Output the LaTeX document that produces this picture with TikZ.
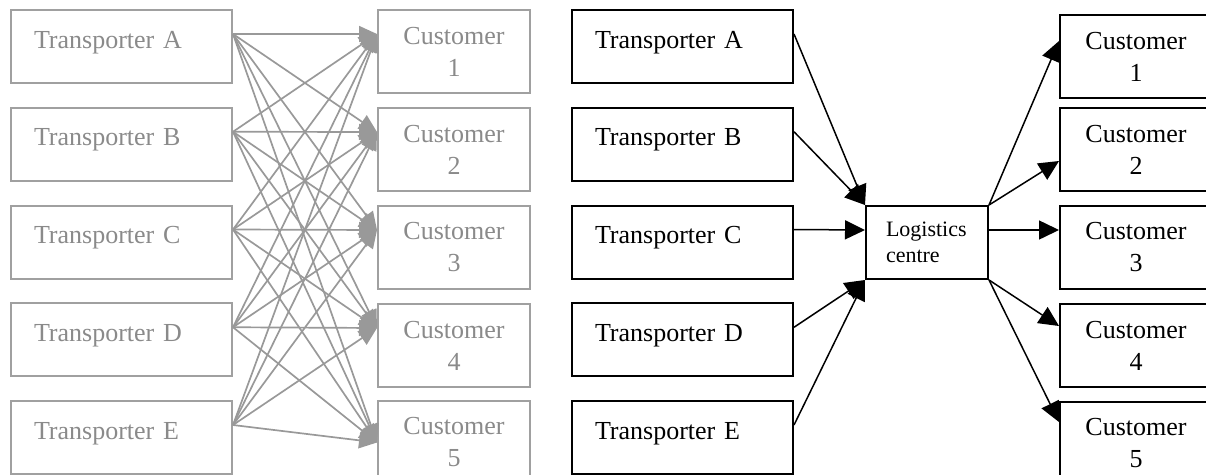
\documentclass[tikz,border=0pt]{standalone}
\usepackage{fontspec}
\setmainfont{Liberation Serif}
\usetikzlibrary{arrows.meta}

\definecolor{boxgray}{HTML}{A0A0A0}
\definecolor{linkgray}{HTML}{999999}
\definecolor{textgray}{HTML}{8A8A8A}

\tikzset{
  trans/.style={draw, line width=2pt, anchor=north west, minimum width=221pt, minimum height=73pt,
    inner xsep=23pt, inner ysep=0pt, text width=175pt, align=left,
    text height=20pt, text depth=17pt, font=\fontsize{26}{32}\selectfont},
  cust/.style={draw, line width=2pt, anchor=north west, minimum width=152pt, minimum height=83pt,
    inner sep=0pt, align=center, font=\fontsize{26}{32}\selectfont},
  hub/.style={draw, line width=2pt, anchor=north west, minimum width=122pt, minimum height=73pt,
    inner xsep=20pt, inner ysep=0pt, text width=82pt, align=left, font=\fontsize{22}{26}\selectfont},
  pale/.style={draw=boxgray, text=textgray},
  link/.style={-{Triangle[length=20pt,width=19pt]}, line width=1.5pt},
}

\begin{document}
\begin{tikzpicture}[x=1pt,y=-1pt]
\useasboundingbox (0,0) rectangle (1206,474);

% without logistics centre
\foreach \l [count=\i, evaluate={\top=9+97.75*(\i-1)}] in {A,B,C,D,E}
  \node[trans, pale] (tL\i) at (10,\top) {Transporter \l};
\foreach \i/\top in {1/9,2/107,3/205,4/303,5/400}
  \node[cust, pale] (cL\i) at (377,\top) {Customer\\\i};

\foreach \i in {1,...,5}
  \foreach \j/\s in {1/17.5pt,2/17.5pt,3/17.5pt,4/17.5pt,5/0pt}
    \draw[link, linkgray, line width=1.7pt, -{Triangle[length=18pt,width=16pt]}] ([yshift=12.5pt]tL\i.east) -- ([yshift=\s]cL\j.west);

% with logistics centre
\foreach \l [count=\i, evaluate={\top=9+97.75*(\i-1)}] in {A,B,C,D,E}
  \node[trans] (tR\i) at (571,\top) {Transporter \l};
\node[hub] (lc) at (865,205) {Logistics\\centre};
\foreach \i/\top in {1/14,2/107,3/205,4/303,5/401}
  \node[cust] (cR\i) at (1059,\top) {Customer\\\i};

\draw[link] ([yshift=12.5pt]tR1.east) -- (lc.north west);
\draw[link] ([yshift=12.5pt]tR2.east) -- (lc.north west);
\draw[link] ([yshift=12.5pt]tR3.east) -- ([yshift=12.5pt]lc.west);
\draw[link] ([yshift=12.5pt]tR4.east) -- (lc.south west);
\draw[link] ([yshift=12.5pt]tR5.east) -- (lc.south west);

\draw[link] (lc.north east) -- ([yshift=15.5pt]cR1.west);
\draw[link] (lc.north east) -- ([yshift=-11.5pt]cR2.west);
\draw[link] ([yshift=12.5pt]lc.east) -- ([yshift=17.5pt]cR3.west);
\draw[link] (lc.south east) -- ([yshift=19.5pt]cR4.west);
\draw[link] (lc.south east) -- ([yshift=21.5pt]cR5.west);
\end{tikzpicture}
\end{document}
